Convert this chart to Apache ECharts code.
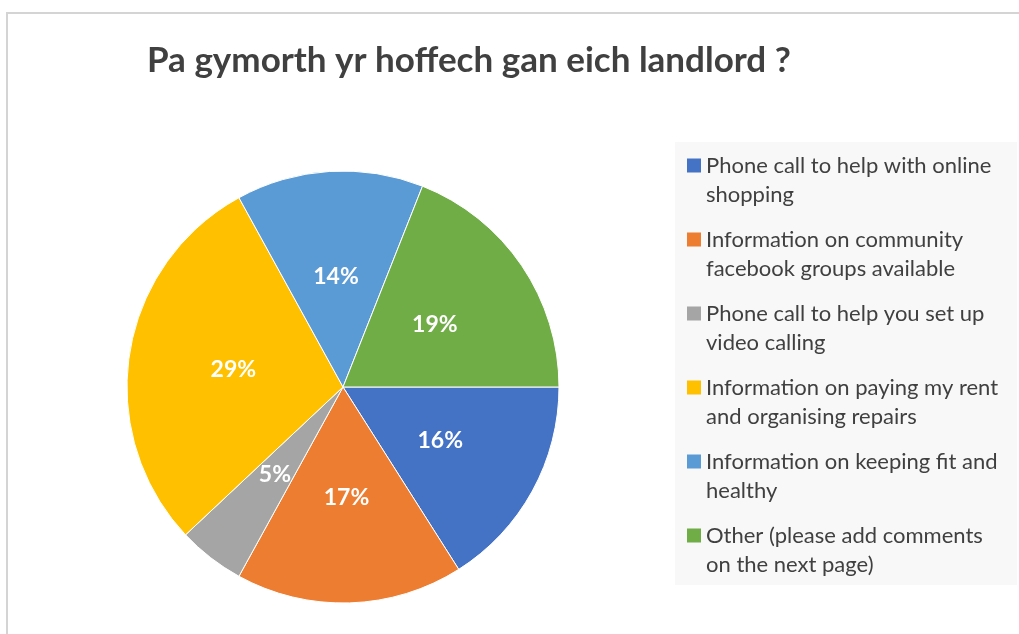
<!DOCTYPE html>
<html>
<head>
<meta charset="utf-8">
<script src="https://cdn.jsdelivr.net/npm/echarts@6/dist/echarts.min.js"></script>
<style>
  html, body { margin: 0; padding: 0; background: #fff; }
  #frame {
    position: absolute; left: 6px; top: 12px; width: 1030px; height: 640px;
    border: 2px solid #d4d4d4; box-sizing: border-box;
  }
  #main { position: absolute; left: 0; top: 0; width: 1019px; height: 634px; }
</style>
</head>
<body>
<div id="frame"></div>
<div id="main"></div>
<script>
// 数据
const titleText = 'Pa gymorth yr hoffech gan eich landlord ?'
const categories = [
  'Phone call to help with online\nshopping',
  'Information on community\nfacebook groups available',
  'Phone call to help you set up\nvideo calling',
  'Information on paying my rent\nand organising repairs',
  'Information on keeping fit and\nhealthy',
  'Other (please add comments\non the next page)',
]
const values = [16, 17, 5, 29, 14, 19]
const colors = ['#4472c4', '#ed7d31', '#a5a5a5', '#ffc000', '#5b9bd5', '#70ad47']

const font = 'Lato, "Open Sans", sans-serif'
let pieData = []
for (let i = 0; i < categories.length; i++) {
  pieData.push({ name: categories[i], value: values[i] })
}

const myChart = echarts.init(document.getElementById('main'))
myChart.setOption({
  animation: false,
  color: colors,
  title: {
    text: titleText,
    left: 142,
    top: 38,
    textStyle: { fontFamily: font, fontSize: 35, fontWeight: 'bold', color: '#404040' },
  },
  graphic: [
    {
      // 图例背景
      type: 'rect',
      shape: { x: 675, y: 142, width: 342, height: 443 },
      style: { fill: '#f8f8f8' },
      z: -1,
    },
  ],
  legend: {
    orient: 'vertical',
    left: 682,
    top: 117,
    itemWidth: 14,
    itemHeight: 14,
    itemGap: -13,
    icon: 'rect',
    itemStyle: { borderWidth: 0 },
    selectedMode: false,
    data: categories,
    // 空行在前，让图标对齐第一行文字
    formatter: (name) => '\n' + name,
    textStyle: {
      fontFamily: font,
      fontSize: 22,
      color: '#404040',
      lineHeight: 29,
    },
  },
  series: [
    {
      type: 'pie',
      center: [343, 387],
      radius: 216,
      startAngle: 0,
      clockwise: true,
      data: pieData,
      itemStyle: { borderColor: '#fff', borderWidth: 1 },
      label: {
        position: 'inside',
        formatter: '{c}%',
        fontFamily: font,
        fontSize: 23,
        fontWeight: 'bold',
        color: '#fff',
      },
      labelLine: { show: false },
      emphasis: { disabled: true },
    },
  ],
})
</script>
</body>
</html>
